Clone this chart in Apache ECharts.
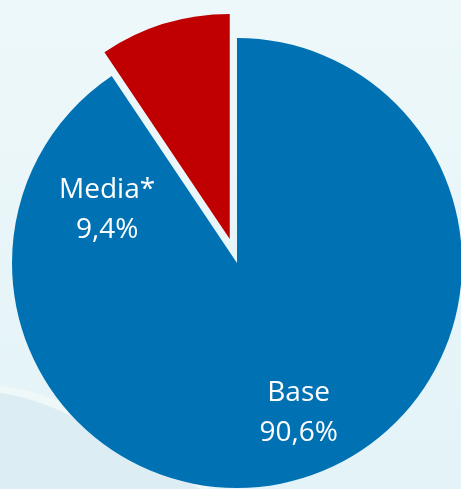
<!DOCTYPE html>
<html>
<head>
<meta charset="utf-8">
<script src="https://cdn.jsdelivr.net/npm/echarts@6/dist/echarts.min.js"></script>
<style>
html,body{margin:0;padding:0;}
#chart{width:461px;height:489px;}
</style>
</head>
<body>
<div id="chart"></div>
<script>
const categories = ["Base", "Media*"];
const values = [90.6, 9.4];
const labelsText = ["90,6%", "9,4%"];

const colors = ["#0072B4", "#C00000"];
const labelOffsets = [[28, 40], [-89, 81]];

// background swoosh decoration (cubic bezier sampled)
function bez(p0, p1, p2, p3, n) {
  const pts = [];
  for (let i = 0; i <= n; i++) {
    const t = i / n, u = 1 - t;
    pts.push([
      u*u*u*p0[0] + 3*u*u*t*p1[0] + 3*u*t*t*p2[0] + t*t*t*p3[0],
      u*u*u*p0[1] + 3*u*u*t*p1[1] + 3*u*t*t*p2[1] + t*t*t*p3[1]
    ]);
  }
  return pts;
}
const lowerCurve = bez([0, 393], [40, 398], [90, 420], [200, 489], 30);
const upperCurve = bez([0, 386], [45, 390], [100, 413], [212, 489], 30);

const chart = echarts.init(document.getElementById('chart'), null, {renderer: 'canvas'});
const data = categories.map((c, i) => ({
  name: c,
  value: values[i],
  selected: i === 1,
  itemStyle: {color: colors[i]},
  label: {offset: labelOffsets[i]},
  select: {itemStyle: {color: colors[i]}, label: {offset: labelOffsets[i]}}
}));

chart.setOption({
  animation: false,
  backgroundColor: {
    type: 'linear', x: 0, y: 0, x2: 0, y2: 1,
    colorStops: [{offset: 0, color: '#EEF8FA'}, {offset: 1, color: '#E3F3F7'}]
  },
  graphic: [{
    type: 'polygon',
    z: -11,
    silent: true,
    shape: {points: upperCurve.concat([[0, 489]])},
    style: {fill: '#EEF8F9'}
  }, {
    type: 'polygon',
    z: -10,
    silent: true,
    shape: {points: lowerCurve.concat([[0, 489]])},
    style: {fill: '#DCEEF3'}
  }],
  series: [{
    type: 'pie',
    center: [237, 263],
    radius: [0, 225],
    startAngle: 90,
    clockwise: true,
    selectedMode: 'single',
    selectedOffset: 25,
    avoidLabelOverlap: false,
    emphasis: {disabled: true},
    label: {
      show: true,
      position: 'inside',
      color: '#FFFFFF',
      fontFamily: 'Open Sans',
      fontSize: 28,
      lineHeight: 40,
      formatter: p => p.name + '\n' + labelsText[p.dataIndex]
    },
    labelLine: {show: false},
    data: data
  }]
});
</script>
</body>
</html>
